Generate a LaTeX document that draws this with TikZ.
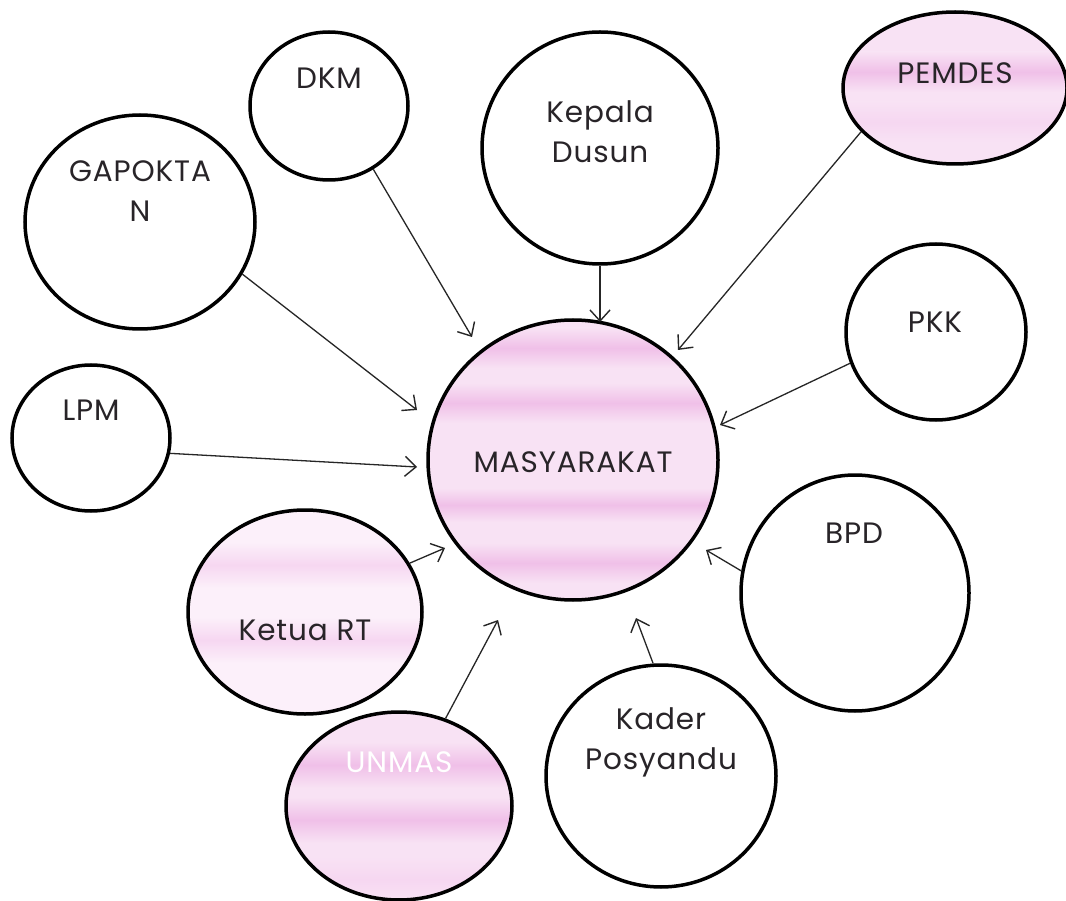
\documentclass[tikz,border=0pt]{standalone}
\usepackage{fontspec}
\setmainfont{Poppins}[LetterSpace=3]
\usetikzlibrary{shapes.geometric,arrows.meta}
\definecolor{pinkA}{RGB}{248,226,244}
\definecolor{pinkB}{RGB}{240,192,232}
\definecolor{pinkL}{RGB}{252,240,250}
\definecolor{pinkM}{RGB}{246,215,241}
\definecolor{txt}{RGB}{40,36,40}
\newcommand{\pband}[4]{\shade[top color=#4, bottom color=#4, middle color=#3] (0,#1) rectangle (1066,#2);}
\begin{document}
\begin{tikzpicture}[x=1pt,y=-1pt,
  circ/.style={ellipse, draw=black, line width=3.5pt, inner sep=0pt},
  lbl/.style={font=\fontsize{29.5}{40}\selectfont, text=txt, align=center, inner sep=0pt},
  conn/.style={-{Straight Barb[length=11pt,width=20pt,line width=1.4pt]}, line width=1.3pt, draw=black!85}]
\useasboundingbox (0,0) rectangle (1066,901);
\fill[white] (0,0) rectangle (1066,901);

% pink fills with soft horizontal bands
\begin{scope}
  \clip (573,460) ellipse [x radius=145, y radius=140];
  \fill[pinkA] (0,300) rectangle (1066,620);
  \pband{328}{368}{pinkB}{pinkA}
  \pband{383}{423}{pinkB}{pinkA}
  \pband{488}{522}{pinkB}{pinkA}
  \pband{543}{583}{pinkB}{pinkA}
\end{scope}
\begin{scope}
  \clip (955,88) ellipse [x radius=112, y radius=76];
  \fill[pinkA] (800,0) rectangle (1066,200);
  \pband{52}{92}{pinkB}{pinkA}
  \pband{102}{142}{pinkM}{pinkA}
\end{scope}
\begin{scope}
  \clip (305,612) ellipse [x radius=117, y radius=102];
  \fill[pinkL] (150,500) rectangle (450,720);
  \pband{542}{588}{pinkM}{pinkL}
  \pband{617}{663}{pinkM}{pinkL}
\end{scope}
\begin{scope}
  \clip (399,806) ellipse [x radius=113, y radius=94];
  \fill[pinkA] (250,700) rectangle (550,901);
  \pband{742}{788}{pinkB}{pinkA}
  \pband{797}{843}{pinkB}{pinkA}
  \pband{857}{901}{pinkM}{pinkA}
\end{scope}

% circles
\node[circ, minimum width=290pt, minimum height=280pt] (m) at (573,460) {};
\node[circ, minimum width=158pt, minimum height=148pt] (dkm) at (329,106) {};
\node[circ, minimum width=230pt, minimum height=214pt] (gap) at (140,222) {};
\node[circ, minimum width=158pt, minimum height=146pt] (lpm) at (91,438) {};
\node[circ, minimum width=236pt, minimum height=232pt] (kd) at (600,148) {};
\node[circ, minimum width=224pt, minimum height=152pt] (pem) at (955,88) {};
\node[circ, minimum width=180pt, minimum height=176pt] (pkk) at (936,332) {};
\node[circ, minimum width=228pt, minimum height=236pt] (bpd) at (855,593) {};
\node[circ, minimum width=230pt, minimum height=222pt] (kad) at (661,776) {};
\node[circ, minimum width=226pt, minimum height=188pt] (unm) at (399,806) {};
\node[circ, minimum width=234pt, minimum height=204pt] (rt) at (305,612) {};

% labels
\node[lbl] (m-t) at (573,462) {MASYARAKAT};
\node[lbl] (dkm-t) at (329,78) {DKM};
\node[lbl] (gap-t) at (140,191) {GAPOKTA\\N};
\node[lbl] (lpm-t) at (91,410) {LPM};
\node[lbl] (kd-t) at (600,132) {Kepala\\Dusun};
\node[lbl] (pem-t) at (955,73) {PEMDES};
\node[lbl] (pkk-t) at (935,322) {PKK};
\node[lbl] (bpd-t) at (854,533) {BPD};
\node[lbl] (kad-t) at (661,742) {Kader\\Posyandu};
\node[lbl] (rt-t) at (305,630) {Ketua RT};
\node[lbl, text=white] (unm-t) at (399,762) {UNMAS};

% arrow end points
\coordinate (e-dkm) at (472,337);
\coordinate (e-gap) at (417,410);
\coordinate (e-lpm) at (417,467);
\coordinate (e-kd) at (600,322);
\coordinate (e-pem) at (678,350);
\coordinate (e-pkk) at (720,425);
\coordinate (e-bpd) at (706,550);
\coordinate (e-kad) at (636,618);
\coordinate (e-unm) at (498,620);
\coordinate (e-rt) at (445,548);

% connectors
\draw[conn] (dkm.-55.5) -- (e-dkm);
\draw[conn] (gap.-27) -- (e-gap);
\draw[conn] (lpm.-11) -- (e-lpm);
\draw[conn] (kd.-90) -- (e-kd);
\draw[conn] (pem.205) -- (e-pem);
\draw[conn] (pkk.200) -- (e-pkk);
\draw[conn] (bpd.169) -- (e-bpd);
\draw[conn] (kad.94) -- (e-kad);
\draw[conn] (unm.62) -- (e-unm);
\draw[conn] (rt.25.5) -- (e-rt);
\end{tikzpicture}
\end{document}
